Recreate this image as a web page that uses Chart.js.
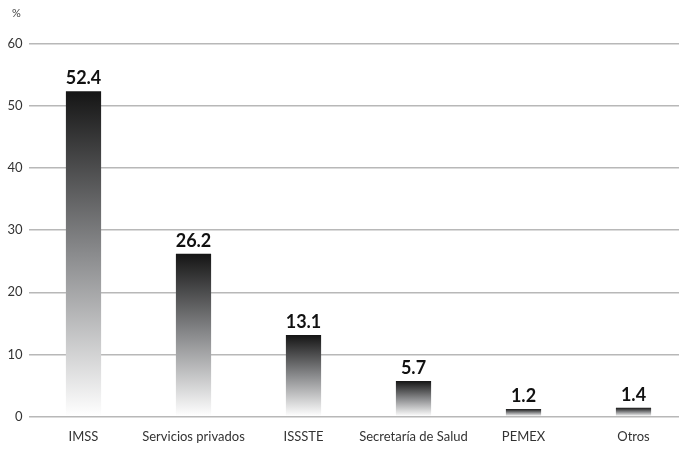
<!DOCTYPE html>
<html>
<head>
<meta charset="utf-8">
<script src="https://cdn.jsdelivr.net/npm/chart.js@4.4.0/dist/chart.umd.min.js"></script>
<style>
  html, body { margin: 0; padding: 0; background: #fff; }
  #wrap { width: 679px; height: 450px; position: relative; }
</style>
</head>
<body>
<div id="wrap"><canvas id="saludChart"></canvas></div>
<script>
// Categories and values (%)
const institutions = ['IMSS', 'Servicios privados', 'ISSSTE', 'Secretaría de Salud', 'PEMEX', 'Otros'];
const shares = [52.4, 26.2, 13.1, 5.7, 1.2, 1.4];
const yTicks = [0, 10, 20, 30, 40, 50, 60];

const fontFamily = 'Lato, "Open Sans", sans-serif';

// Each bar gets its own black-to-white gradient, top to bottom
function barGradient(context) {
    const chart = context.chart;
    const yScale = chart.scales.y;
    if (!chart.chartArea || !yScale) return '#333';
    const value = context.raw;
    const top = yScale.getPixelForValue(value);
    const base = yScale.getPixelForValue(0);
    const g = chart.ctx.createLinearGradient(0, top, 0, base);
    g.addColorStop(0, '#151515');
    g.addColorStop(0.5, '#8a8b8d');
    g.addColorStop(1, '#ffffff');
    return g;
}

// The category band runs a little past the right edge of the canvas
const widenCategories = {
    id: 'widenCategories',
    afterLayout(chart) {
        const x = chart.scales.x;
        x.right = x.left + 660;
        x.configure();
    }
};

// Value labels above bars and the "%" unit label
const valueLabels = {
    id: 'valueLabels',
    afterDatasetsDraw(chart) {
        const ctx = chart.ctx;
        const meta = chart.getDatasetMeta(0);
        ctx.save();
        ctx.font = 'bold 18px ' + fontFamily;
        ctx.fillStyle = '#111';
        ctx.textAlign = 'center';
        ctx.textBaseline = 'bottom';
        meta.data.forEach((bar, i) => {
            ctx.fillText(shares[i].toFixed(1), bar.x, bar.y - 4);
        });
        ctx.font = '11px ' + fontFamily;
        ctx.fillStyle = '#444';
        ctx.textAlign = 'left';
        ctx.textBaseline = 'middle';
        ctx.fillText('%', 12, 13);
        ctx.restore();
    }
};

const ctx = document.getElementById('saludChart').getContext('2d');
const saludChart = new Chart(ctx, {
    type: 'bar',
    data: {
        labels: institutions,
        datasets: [{
            data: shares,
            backgroundColor: barGradient,
            borderWidth: 0,
            barPercentage: 0.32,
            categoryPercentage: 1
        }]
    },
    options: {
        responsive: true,
        maintainAspectRatio: false,
        animation: false,
        layout: {
            padding: { top: 44, left: 6, right: 0, bottom: -8 }
        },
        scales: {
            y: {
                min: 0,
                max: 60,
                afterBuildTicks(scale) {
                    scale.ticks = yTicks.map(v => ({ value: v }));
                },
                afterFit(scale) {
                    scale.width = 22.5;
                },
                grid: {
                    color: '#b8b8b8',
                    lineWidth: 1.5,
                    drawTicks: false
                },
                border: { display: false },
                ticks: {
                    padding: 6,
                    color: '#333',
                    font: { family: fontFamily, size: 13 }
                }
            },
            x: {
                grid: { display: false, drawTicks: false },
                border: { display: false },
                ticks: {
                    padding: 13,
                    color: '#333',
                    maxRotation: 0,
                    minRotation: 0,
                    autoSkip: false,
                    font: { family: fontFamily, size: 13 }
                }
            }
        },
        plugins: {
            legend: { display: false },
            tooltip: { enabled: false }
        }
    },
    plugins: [widenCategories, valueLabels]
});
</script>
</body>
</html>
